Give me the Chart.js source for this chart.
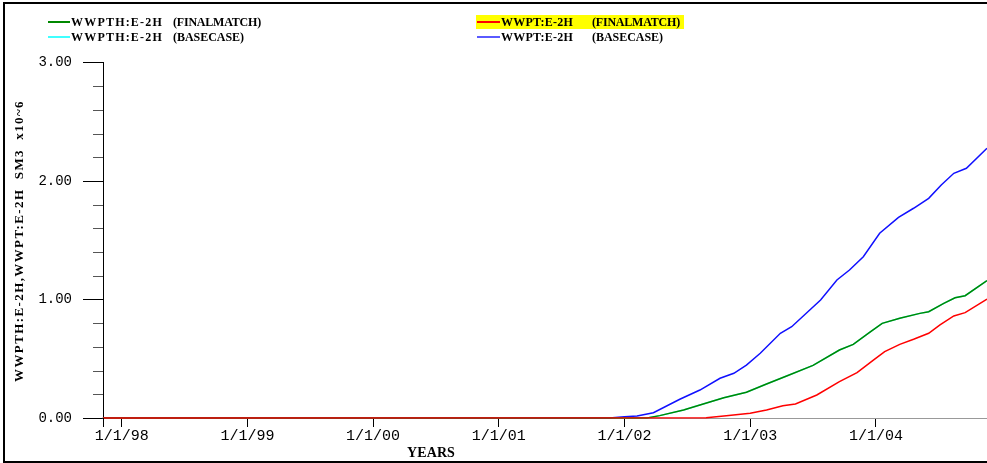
<!DOCTYPE html>
<html>
<head>
<meta charset="utf-8">
<style>
  html, body { margin: 0; padding: 0; background: #fff; overflow: hidden; }
  canvas { display: block; }
</style>
</head>
<body>
<canvas id="plot" width="987" height="463"></canvas>
<script src="https://cdn.jsdelivr.net/npm/chart.js"></script>
<script>
    // x values are decimal years
    var tickYears = [1998, 1999, 2000, 2001, 2002, 2003, 2004];
    var tickLabels = ['1/1/98', '1/1/99', '1/1/00', '1/1/01', '1/1/02', '1/1/03', '1/1/04'];

    // WWPTH:E-2H (FINALMATCH) - history, green
    var wwpthFinalYears = [1997.85, 2002.18, 2002.28, 2002.47, 2002.60, 2002.79, 2002.97, 2003.13, 2003.29, 2003.50, 2003.71, 2003.82, 2003.95, 2004.05, 2004.19, 2004.35, 2004.42, 2004.54, 2004.63, 2004.71, 2004.884];
    var wwpthFinalValues = [0, 0, 0.02, 0.068, 0.11, 0.171, 0.217, 0.287, 0.354, 0.444, 0.574, 0.621, 0.723, 0.799, 0.841, 0.883, 0.897, 0.968, 1.015, 1.032, 1.159];

    // WWPTH:E-2H (BASECASE) - same history, hidden under the green line
    var wwpthBaseYears = wwpthFinalYears;
    var wwpthBaseValues = wwpthFinalValues;

    // WWPT:E-2H (FINALMATCH) - red
    var wwptFinalYears = [1997.85, 2002.65, 2002.81, 2003.00, 2003.13, 2003.26, 2003.36, 2003.53, 2003.71, 2003.85, 2003.98, 2004.07, 2004.19, 2004.30, 2004.42, 2004.51, 2004.62, 2004.71, 2004.884];
    var wwptFinalValues = [0, 0.003, 0.02, 0.04, 0.068, 0.104, 0.118, 0.194, 0.307, 0.383, 0.489, 0.560, 0.621, 0.664, 0.715, 0.785, 0.861, 0.889, 1.004];

    // WWPT:E-2H (BASECASE) - blue
    var wwptBaseYears = [1997.85, 2001.88, 2002.00, 2002.10, 2002.23, 2002.44, 2002.60, 2002.76, 2002.87, 2002.97, 2003.08, 2003.24, 2003.33, 2003.56, 2003.69, 2003.79, 2003.90, 2004.03, 2004.18, 2004.30, 2004.42, 2004.52, 2004.62, 2004.72, 2004.884];
    var wwptBaseValues = [0, 0, 0.01, 0.017, 0.045, 0.158, 0.236, 0.335, 0.377, 0.447, 0.546, 0.715, 0.770, 0.996, 1.165, 1.249, 1.361, 1.559, 1.693, 1.770, 1.854, 1.966, 2.065, 2.107, 2.276];

    function pts(xs, ys) {
        return xs.map(function(x, i) { return { x: x, y: ys[i] }; });
    }

    // legend slots, in dataset order
    var legendSlots = [
        { x0: 48, x1: 70, name: 71, tag: 173, y: 22 },
        { x0: 48, x1: 70, name: 71, tag: 173, y: 37 },
        { x0: 477, x1: 500, name: 501, tag: 592, y: 22, mark: true },
        { x0: 477, x1: 500, name: 501, tag: 592, y: 37 }
    ];
    var textWidths = {
        'WWPTH:E-2H': 92, 'WWPT:E-2H': 72,
        '(FINALMATCH)': 88, '(BASECASE)': 71
    };

    function fitText(ctx, txt, x, y, w) {
        ctx.letterSpacing = '0px';
        var m = ctx.measureText(txt).width;
        var ls = (w - m) / txt.length;
        ctx.letterSpacing = ls + 'px';
        ctx.fillText(txt, x, y);
        ctx.letterSpacing = '0px';
    }

    var decor = {
        id: 'decor',
        afterDraw: function(chart) {
            var ctx = chart.ctx;
            var area = chart.chartArea;
            var ys = chart.scales.y;
            ctx.save();

            // frame
            ctx.strokeStyle = '#000';
            ctx.lineWidth = 2;
            ctx.beginPath();
            ctx.moveTo(990, 3); ctx.lineTo(4, 3); ctx.lineTo(4, 462); ctx.lineTo(990, 462);
            ctx.stroke();

            // minor y ticks
            ctx.lineWidth = 1;
            ctx.strokeStyle = '#555';
            for (var v = 0.2; v < 3; v += 0.2) {
                if (Math.abs(v - Math.round(v)) < 0.01) continue;
                var py = Math.round(ys.getPixelForValue(v)) + 0.5;
                ctx.beginPath();
                ctx.moveTo(area.left - 10, py); ctx.lineTo(area.left, py);
                ctx.stroke();
            }
            // y axis runs a little below the x axis
            ctx.strokeStyle = '#000';
            ctx.beginPath();
            ctx.moveTo(area.left + 0.5, area.bottom); ctx.lineTo(area.left + 0.5, area.bottom + 9);
            ctx.stroke();

            // legend
            ctx.textBaseline = 'middle';
            ctx.textAlign = 'left';
            ctx.font = 'bold 12px "Liberation Serif"';
            chart.data.datasets.forEach(function(ds, i) {
                var s = legendSlots[i];
                var parts = ds.label.split(/\s{2,}/);
                if (s.mark) {
                    ctx.fillStyle = '#ffff00';
                    ctx.fillRect(s.x0 - 1, s.y - 7, 685 - s.x0, 14);
                }
                ctx.strokeStyle = ds.legendColor || ds.borderColor;
                ctx.lineWidth = 2;
                ctx.beginPath();
                ctx.moveTo(s.x0, s.y); ctx.lineTo(s.x1, s.y);
                ctx.stroke();
                ctx.fillStyle = '#000';
                fitText(ctx, parts[0], s.name, s.y + 1, textWidths[parts[0]]);
                fitText(ctx, parts[1], s.tag, s.y + 1, textWidths[parts[1]]);
            });

            // axis titles
            ctx.font = 'bold 14px "Liberation Serif"';
            fitText(ctx, 'YEARS', 407, 453, 48);
            ctx.translate(20, 241);
            ctx.rotate(-Math.PI / 2);
            ctx.font = 'bold 13px "Liberation Serif"';
            fitText(ctx, 'WWPTH:E-2H,WWPT:E-2H  SM3  x10~6', -141, 0, 282);
            ctx.restore();
        }
    };

    var ctx = document.getElementById('plot').getContext('2d');
    var myChart = new Chart(ctx, {
        type: 'line',
        data: {
            datasets: [{
                label: 'WWPTH:E-2H   (FINALMATCH)',
                data: pts(wwpthFinalYears, wwpthFinalValues),
                borderColor: '#008800',
                order: 1
            }, {
                label: 'WWPTH:E-2H   (BASECASE)',
                data: pts(wwpthBaseYears, wwpthBaseValues),
                borderColor: '#40ffff',
                order: 3
            }, {
                label: 'WWPT:E-2H   (FINALMATCH)',
                data: pts(wwptFinalYears, wwptFinalValues),
                borderColor: '#ff0000',
                order: 0
            }, {
                label: 'WWPT:E-2H   (BASECASE)',
                data: pts(wwptBaseYears, wwptBaseValues),
                borderColor: '#1010ff',
                legendColor: '#5a5aff',
                order: 2
            }]
        },
        options: {
            responsive: false,
            animation: false,
            devicePixelRatio: 1,
            layout: { padding: { top: 62.5, left: 0, right: 0, bottom: 0 } },
            elements: {
                point: { radius: 0 },
                line: { borderWidth: 1.5, tension: 0 }
            },
            datasets: { line: { clip: 3 } },
            plugins: {
                legend: { display: false },
                tooltip: { enabled: false }
            },
            scales: {
                x: {
                    type: 'linear',
                    min: 1997.851,
                    max: 2004.884,
                    afterBuildTicks: function(scale) {
                        scale.ticks = tickYears.map(function(v) { return { value: v }; });
                    },
                    afterFit: function(scale) { scale.height = 45; },
                    grid: { drawOnChartArea: false, tickLength: 9, color: '#000' },
                    border: { color: '#999', width: 1 },
                    ticks: {
                        color: '#000',
                        padding: 0,
                        maxRotation: 0,
                        autoSkip: false,
                        font: { family: 'Liberation Mono', size: 15 },
                        callback: function(v, i) { return tickLabels[i]; }
                    }
                },
                y: {
                    min: 0,
                    max: 3,
                    afterFit: function(scale) { scale.width = 103; },
                    grid: { drawOnChartArea: false, tickLength: 20, color: '#000' },
                    border: { color: '#000', width: 1 },
                    ticks: {
                        stepSize: 1,
                        color: '#000',
                        padding: 11,
                        font: { family: 'Liberation Mono', size: 14 },
                        callback: function(v) { return v.toFixed(2); }
                    }
                }
            }
        },
        plugins: [decor]
    });
</script>
</body>
</html>
